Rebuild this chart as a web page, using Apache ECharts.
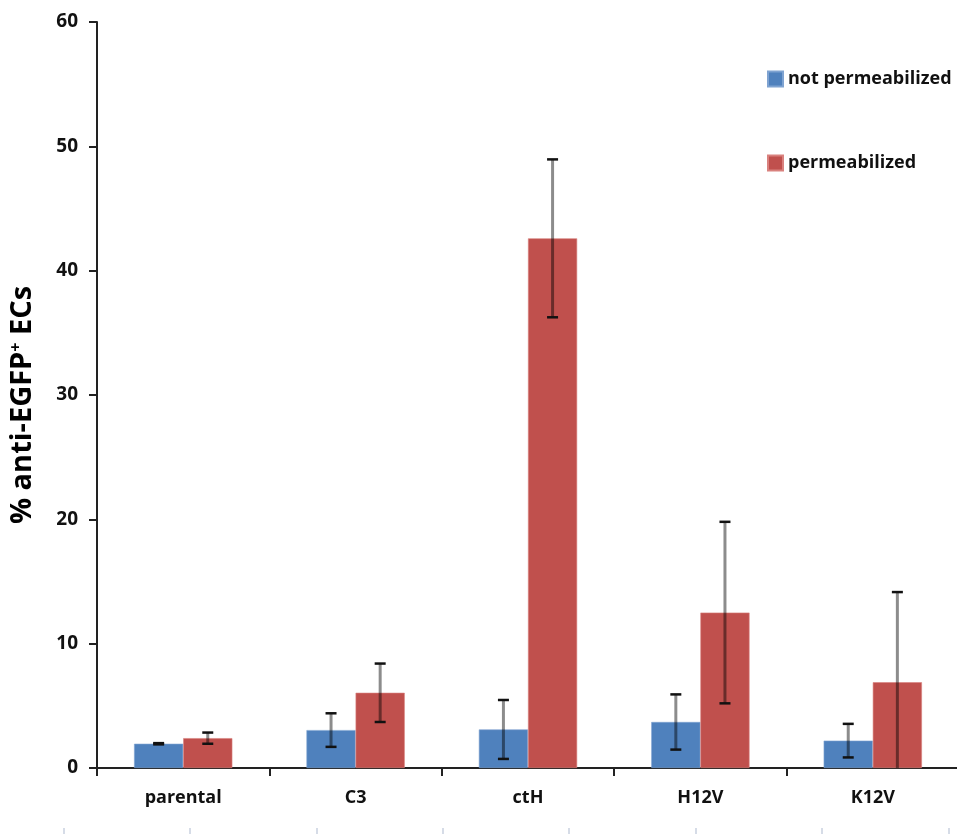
<!DOCTYPE html>
<html>
<head>
<meta charset="utf-8">
<script src="https://cdn.jsdelivr.net/npm/echarts@6/dist/echarts.min.js"></script>
<style>
html,body{margin:0;padding:0;background:#fff;}
#c{width:957px;height:834px;}
</style>
</head>
<body>
<div id="c"></div>
<script>
const categories = ['parental', 'C3', 'ctH', 'H12V', 'K12V'];
const notPermeabilized = [1.95, 3.05, 3.1, 3.7, 2.2];
const notPermeabilizedErr = [0.05, 1.35, 2.37, 2.22, 1.35];
const permeabilized = [2.4, 6.05, 42.6, 12.5, 6.9];
const permeabilizedErr = [0.45, 2.35, 6.35, 7.3, 7.25];
const yTicks = [0, 10, 20, 30, 40, 50, 60];
const bottomStrip = ['', '', '', '', '', '', ''];

const FONT = 'Open Sans';
const BAR_FRAC = 0.285;

function errorSeries(name, vals, errs, side) {
  return {
    type: 'custom',
    name: name + ' err',
    xAxisIndex: 0, yAxisIndex: 0,
    clip: true,
    silent: true,
    z: 10,
    data: vals.map((v, i) => [i, v - errs[i], v + errs[i]]),
    renderItem: function (params, api) {
      const idx = api.value(0);
      const lo = api.coord([idx, api.value(1)]);
      const hi = api.coord([idx, api.value(2)]);
      const band = api.size([1, 0])[0];
      const x = lo[0] + side * band * BAR_FRAC / 2;
      const cap = 5.5;
      const children = [
        {type: 'line', shape: {x1: x, y1: lo[1], x2: x, y2: hi[1]},
         style: {stroke: 'rgba(0,0,0,0.45)', lineWidth: 3}},
        {type: 'line', shape: {x1: x - cap, y1: hi[1], x2: x + cap, y2: hi[1]},
         style: {stroke: '#111', lineWidth: 2.5}},
        {type: 'line', shape: {x1: x - cap, y1: lo[1], x2: x + cap, y2: lo[1]},
         style: {stroke: '#111', lineWidth: 2.5}}
      ];
      return {type: 'group', children: children};
    }
  };
}

const chart = echarts.init(document.getElementById('c'), null, {renderer: 'canvas'});
chart.setOption({
  backgroundColor: '#fff',
  animation: false,
  textStyle: {fontFamily: FONT},
  legend: {
    orient: 'vertical',
    left: 767, top: 70,
    padding: 0,
    itemWidth: 15, itemHeight: 15,
    itemGap: 66,
    icon: 'rect',
    data: ['not permeabilized', 'permeabilized'],
    textStyle: {fontFamily: FONT, fontWeight: 'bold', fontSize: 18, color: '#111'}
  },
  grid: [
    {left: 97, top: 22, width: 862, height: 746, outerBoundsMode: 'none', containLabel: false},
    {left: 63.5, top: 820, width: 884.8, height: 14, outerBoundsMode: 'none', containLabel: false}
  ],
  xAxis: [
    {
      type: 'category', gridIndex: 0, data: categories,
      axisLine: {lineStyle: {color: '#222', width: 2}},
      axisTick: {show: true, length: 8, lineStyle: {color: '#222', width: 2}},
      axisLabel: {margin: 21, fontFamily: FONT, fontWeight: 'bold', fontSize: 18, color: '#111'}
    },
    {
      type: 'category', gridIndex: 1, data: bottomStrip,
      axisLine: {show: false},
      axisTick: {show: true, inside: true, length: 6, lineStyle: {color: '#c9d1e0', width: 1.5}},
      axisLabel: {show: false}
    }
  ],
  yAxis: [
    {
      type: 'value', gridIndex: 0, min: 0, max: 60, interval: 10,
      splitLine: {show: false},
      axisLine: {show: true, lineStyle: {color: '#222', width: 2}},
      axisTick: {show: true, length: 8, lineStyle: {color: '#222', width: 2}},
      axisLabel: {margin: 19, fontFamily: FONT, fontWeight: 'bold', fontSize: 19, color: '#111',
        formatter: v => yTicks.includes(v) ? String(v) : ''},
      name: '{a|% anti-EGFP}{s|+}{a| ECs}',
      nameLocation: 'middle',
      nameGap: 60,
      nameRotate: 90,
      nameTextStyle: {
        padding: [0, 20, 0, 0],
        rich: {
          a: {fontFamily: FONT, fontWeight: 'bold', fontSize: 29, color: '#000'},
          s: {fontFamily: FONT, fontWeight: 'bold', fontSize: 16, color: '#000', verticalAlign: 'top', padding: [0, 0, 12, 0]}
        }
      }
    },
    {
      type: 'value', gridIndex: 1, show: false
    }
  ],
  series: [
    {
      name: 'not permeabilized', type: 'bar', data: notPermeabilized,
      barWidth: (BAR_FRAC * 100) + '%', barGap: '0%',
      itemStyle: {color: '#4F81BD', borderColor: '#7fa3d1', borderWidth: 0.6}
    },
    {
      name: 'permeabilized', type: 'bar', data: permeabilized,
      barWidth: (BAR_FRAC * 100) + '%', barGap: '0%',
      itemStyle: {color: '#C0504D', borderColor: '#d9817e', borderWidth: 0.6}
    },
    errorSeries('not permeabilized', notPermeabilized, notPermeabilizedErr, -1),
    errorSeries('permeabilized', permeabilized, permeabilizedErr, 1)
  ]
});
</script>
</body>
</html>
